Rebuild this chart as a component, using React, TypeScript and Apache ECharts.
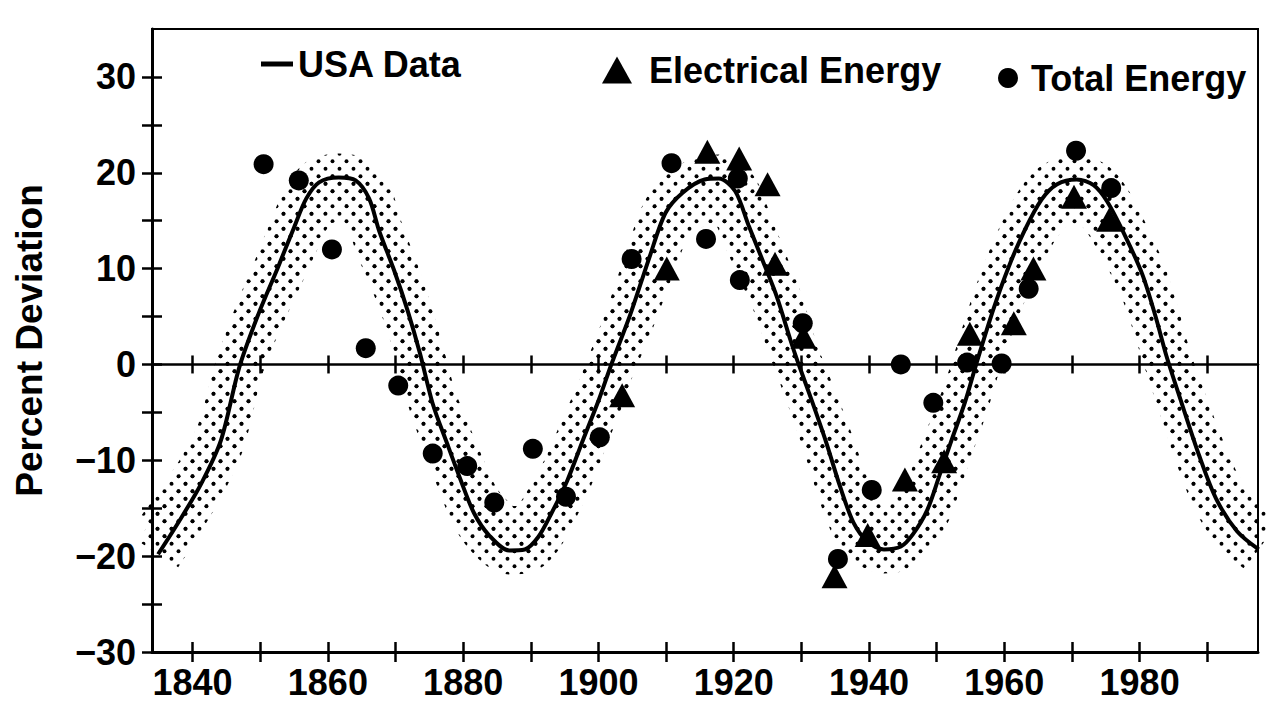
import React, { useEffect, useRef } from "react";
import * as echarts from "echarts";

const FONT = "'Liberation Sans', Arial, Helvetica, sans-serif";

// Fitted "USA Data" curve (year, percent deviation)
const curveYears = [
  1834.9, 1837.8, 1841.3, 1844.2, 1846.9, 1849.7, 1852.6, 1855.0, 1856.8, 1858.7,
  1861.6, 1864.1, 1866.1, 1867.6, 1869.8, 1871.8, 1873.6, 1875.5, 1877.6, 1879.6,
  1881.6, 1883.8, 1886.8, 1889.1, 1891.1, 1893.0, 1895.4, 1897.7, 1900.1, 1901.9,
  1904.7, 1907.5, 1909.9, 1912.4, 1915.7, 1917.8, 1920.2, 1922.2, 1924.3, 1926.4,
  1928.4, 1929.4, 1931.5, 1933.7, 1935.7, 1937.7, 1939.8, 1942.2, 1944.7, 1946.5,
  1948.6, 1950.4, 1952.2, 1954.2, 1956.0, 1958.4, 1960.6, 1963.0, 1965.5, 1967.8,
  1970.7, 1973.2, 1975.2, 1977.8, 1980.4, 1982.4, 1984.0, 1986.2, 1988.8, 1991.3,
  1994.4, 1997.6,
];
const curveValues = [
  -19.8, -16.6, -12.4, -7.9, -0.3, 5.2, 10.1, 14.3, 17.3, 19.0,
  19.5, 19.2, 17.3, 13.9, 9.8, 5.6, 1.2, -4.1, -8.2, -12.0,
  -15.5, -17.8, -19.4, -19.3, -18.0, -15.6, -12.1, -7.9, -3.6, 0.0,
  5.2, 11.1, 15.8, 17.9, 19.3, 19.4, 18.1, 14.5, 10.8, 7.0,
  2.5, 0.4, -3.7, -8.2, -12.7, -16.5, -18.5, -19.3, -19.0, -17.7,
  -15.2, -11.6, -7.9, -3.9, 0.4, 5.8, 10.1, 14.0, 17.2, 18.8,
  19.3, 18.7, 17.0, 13.5, 9.4, 4.9, 0.8, -4.0, -9.5, -14.0,
  -17.4, -19.3,
];

// Total Energy (circles)
const totalYears = [
  1850.5, 1855.7, 1860.6, 1865.6, 1870.4, 1875.5, 1880.6, 1884.6, 1890.3, 1895.2,
  1900.2, 1904.9, 1910.8, 1915.9, 1920.6, 1920.9, 1930.2, 1935.4, 1940.4, 1944.7,
  1949.5, 1954.5, 1959.6, 1963.6, 1970.6, 1975.8,
];
const totalValues = [
  20.9, 19.2, 12.0, 1.7, -2.2, -9.3, -10.6, -14.4, -8.8, -13.8,
  -7.6, 11.0, 21.0, 13.1, 19.4, 8.8, 4.3, -20.3, -13.1, 0.0,
  -4.0, 0.2, 0.1, 7.9, 22.3, 18.4,
];

// Electrical Energy (triangles)
const elecYears = [
  1903.5, 1910.1, 1916.1, 1920.8, 1925.0, 1926.1, 1930.3, 1934.9, 1939.8, 1945.3,
  1951.1, 1954.9, 1961.4, 1964.3, 1970.3, 1975.5,
];
const elecValues = [
  -3.2, 10.0, 22.2, 21.5, 18.8, 10.5, 2.9, -22.1, -17.8, -12.0,
  -10.1, 3.2, 4.3, 10.0, 17.5, 15.1,
];

const xTickYears = [1840, 1850, 1860, 1870, 1880, 1890, 1900, 1910, 1920, 1930, 1940, 1950, 1960, 1970, 1980, 1990];
const xLabelYears = [1840, 1860, 1880, 1900, 1920, 1940, 1960, 1980];
const yTickValues = [-30, -25, -20, -15, -10, -5, 0, 5, 10, 15, 20, 25, 30];
const yLabelValues = [-30, -20, -10, 0, 10, 20, 30];

const X_MIN = 1834;
const X_MAX = 1997.5;
const Y_MIN = -30;
const Y_MAX = 35;
// hidden axis that draws the inner half of the dotted band slightly toward zero
const BAND_INNER_SCALE = 0.89;

function pairs(xs: number[], ys: number[]) {
  return xs.map((x, i) => [x, ys[i]]);
}

function makeDotPattern() {
  const w = 14;
  const h = 15;
  const c = document.createElement("canvas");
  c.width = w;
  c.height = h;
  const ctx = c.getContext("2d")!;
  ctx.fillStyle = "#000";
  ctx.beginPath();
  ctx.arc(3.5, 3.75, 1.95, 0, Math.PI * 2);
  ctx.fill();
  ctx.beginPath();
  ctx.arc(10.5, 11.25, 1.95, 0, Math.PI * 2);
  ctx.fill();
  return { image: c.toDataURL(), repeat: "repeat", imageWidth: w, imageHeight: h };
}

export default function App() {
  const ref = useRef<HTMLDivElement>(null);

  useEffect(() => {
    if (!ref.current) return;
    const chart = echarts.init(ref.current, undefined, { renderer: "svg" });
    const pattern = makeDotPattern();
    const curve = pairs(curveYears, curveValues);

    const xBase = {
      type: "value",
      min: X_MIN,
      max: X_MAX,
      splitLine: { show: false },
    };
    const yBase = {
      type: "value",
      min: Y_MIN,
      max: Y_MAX,
      interval: 5,
      splitLine: { show: false },
    };
    const tickStyle = { color: "#000", width: 2.5 };
    const txt = { color: "#000", fontFamily: FONT, fontWeight: "bold" as const };

    const bandSeries = (yAxisIndex: number) => ({
      name: "band" + yAxisIndex,
      type: "line",
      data: curve,
      yAxisIndex,
      smooth: 0.3,
      symbol: "none",
      silent: true,
      clip: true,
      z: 1,
      lineStyle: { width: 48, color: pattern, cap: "butt", join: "round" },
      emphasis: { disabled: true },
    });

    const option: any = {
      animation: false,
      backgroundColor: "#fff",
      grid: {
        left: 152,
        right: 10,
        top: 29,
        bottom: 63,
        show: true,
        borderColor: "#000",
        borderWidth: 2,
        backgroundColor: "transparent",
        outerBoundsMode: "none",
      },
      legend: [
        {
          data: ["USA Data"],
          left: 256,
          top: 41,
          icon: "rect",
          itemWidth: 32,
          itemHeight: 5,
          selectedMode: false,
          textStyle: { ...txt, fontSize: 36 },
        },
        {
          data: ["Electrical Energy"],
          left: 597,
          top: 47,
          icon: "triangle",
          itemWidth: 30,
          itemHeight: 27,
          selectedMode: false,
          textStyle: { ...txt, fontSize: 36, padding: [0, 0, 0, 12] },
        },
        {
          data: ["Total Energy"],
          left: 993,
          top: 55,
          icon: "circle",
          itemWidth: 20,
          itemHeight: 20,
          selectedMode: false,
          textStyle: { ...txt, fontSize: 36, padding: [0, 0, 0, 8] },
        },
      ],
      xAxis: [
        {
          ...xBase,
          position: "bottom",
          axisLine: { show: true, onZero: false, lineStyle: { color: "#000", width: 3 } },
          axisTick: { show: true, inside: false, length: 10, lineStyle: tickStyle, customValues: xTickYears },
          axisLabel: {
            ...txt,
            show: true,
            customValues: xLabelYears,
            fontSize: 36,
            margin: 12,
            formatter: (v: number) => String(v),
          },
        },
        {
          ...xBase,
          position: "bottom",
          axisLine: { show: false, onZero: false },
          axisTick: { show: true, inside: true, length: 10, lineStyle: tickStyle, customValues: xTickYears },
          axisLabel: { show: false },
        },
        {
          ...xBase,
          position: "bottom",
          axisLine: { show: true, onZero: true, onZeroAxisIndex: 0, lineStyle: { color: "#000", width: 2.5 } },
          axisTick: { show: true, inside: false, length: 9, lineStyle: tickStyle, customValues: xTickYears },
          axisLabel: { show: false },
        },
        {
          ...xBase,
          position: "bottom",
          axisLine: { show: false, onZero: true, onZeroAxisIndex: 0 },
          axisTick: { show: true, inside: true, length: 9, lineStyle: tickStyle, customValues: xTickYears },
          axisLabel: { show: false },
        },
      ],
      yAxis: [
        {
          ...yBase,
          position: "left",
          name: "Percent Deviation",
          nameLocation: "middle",
          nameGap: 104,
          nameTextStyle: { ...txt, fontSize: 37 },
          axisLine: { show: true, onZero: false, lineStyle: { color: "#000", width: 3 } },
          axisTick: { show: true, inside: false, length: 10, lineStyle: tickStyle, customValues: yTickValues },
          axisLabel: {
            ...txt,
            show: true,
            customValues: yLabelValues,
            fontSize: 36,
            margin: 16,
            formatter: (v: number) => (v < 0 ? "\u2212" + Math.abs(v) : String(v)),
          },
        },
        {
          ...yBase,
          position: "left",
          axisLine: { show: false, onZero: false },
          axisTick: { show: true, inside: true, length: 10, lineStyle: tickStyle, customValues: yTickValues },
          axisLabel: { show: false },
        },
        {
          type: "value",
          show: false,
          min: Y_MIN / BAND_INNER_SCALE,
          max: Y_MAX / BAND_INNER_SCALE,
          splitLine: { show: false },
          axisLine: { onZero: false },
        },
      ],
      series: [
        bandSeries(0),
        bandSeries(2),
        {
          name: "USA Data",
          type: "line",
          data: curve,
          smooth: 0.3,
          symbol: "none",
          silent: true,
          clip: true,
          z: 2,
          itemStyle: { color: "#000" },
          lineStyle: { width: 4, color: "#000" },
          emphasis: { disabled: true },
        },
        {
          name: "Electrical Energy",
          type: "scatter",
          data: pairs(elecYears, elecValues),
          symbol: "triangle",
          symbolSize: [26, 24],
          itemStyle: { color: "#000", opacity: 1 },
          silent: true,
          z: 3,
          emphasis: { disabled: true },
        },
        {
          name: "Total Energy",
          type: "scatter",
          data: pairs(totalYears, totalValues),
          symbol: "circle",
          symbolSize: 20,
          itemStyle: { color: "#000", opacity: 1 },
          silent: true,
          z: 3,
          emphasis: { disabled: true },
        },
      ],
    };

    chart.setOption(option);
    return () => {
      chart.dispose();
    };
  }, []);

  return (
    <div
      ref={ref}
      style={{ position: "fixed", left: 0, top: 0, width: 1268, height: 715, background: "#fff" }}
    />
  );
}
